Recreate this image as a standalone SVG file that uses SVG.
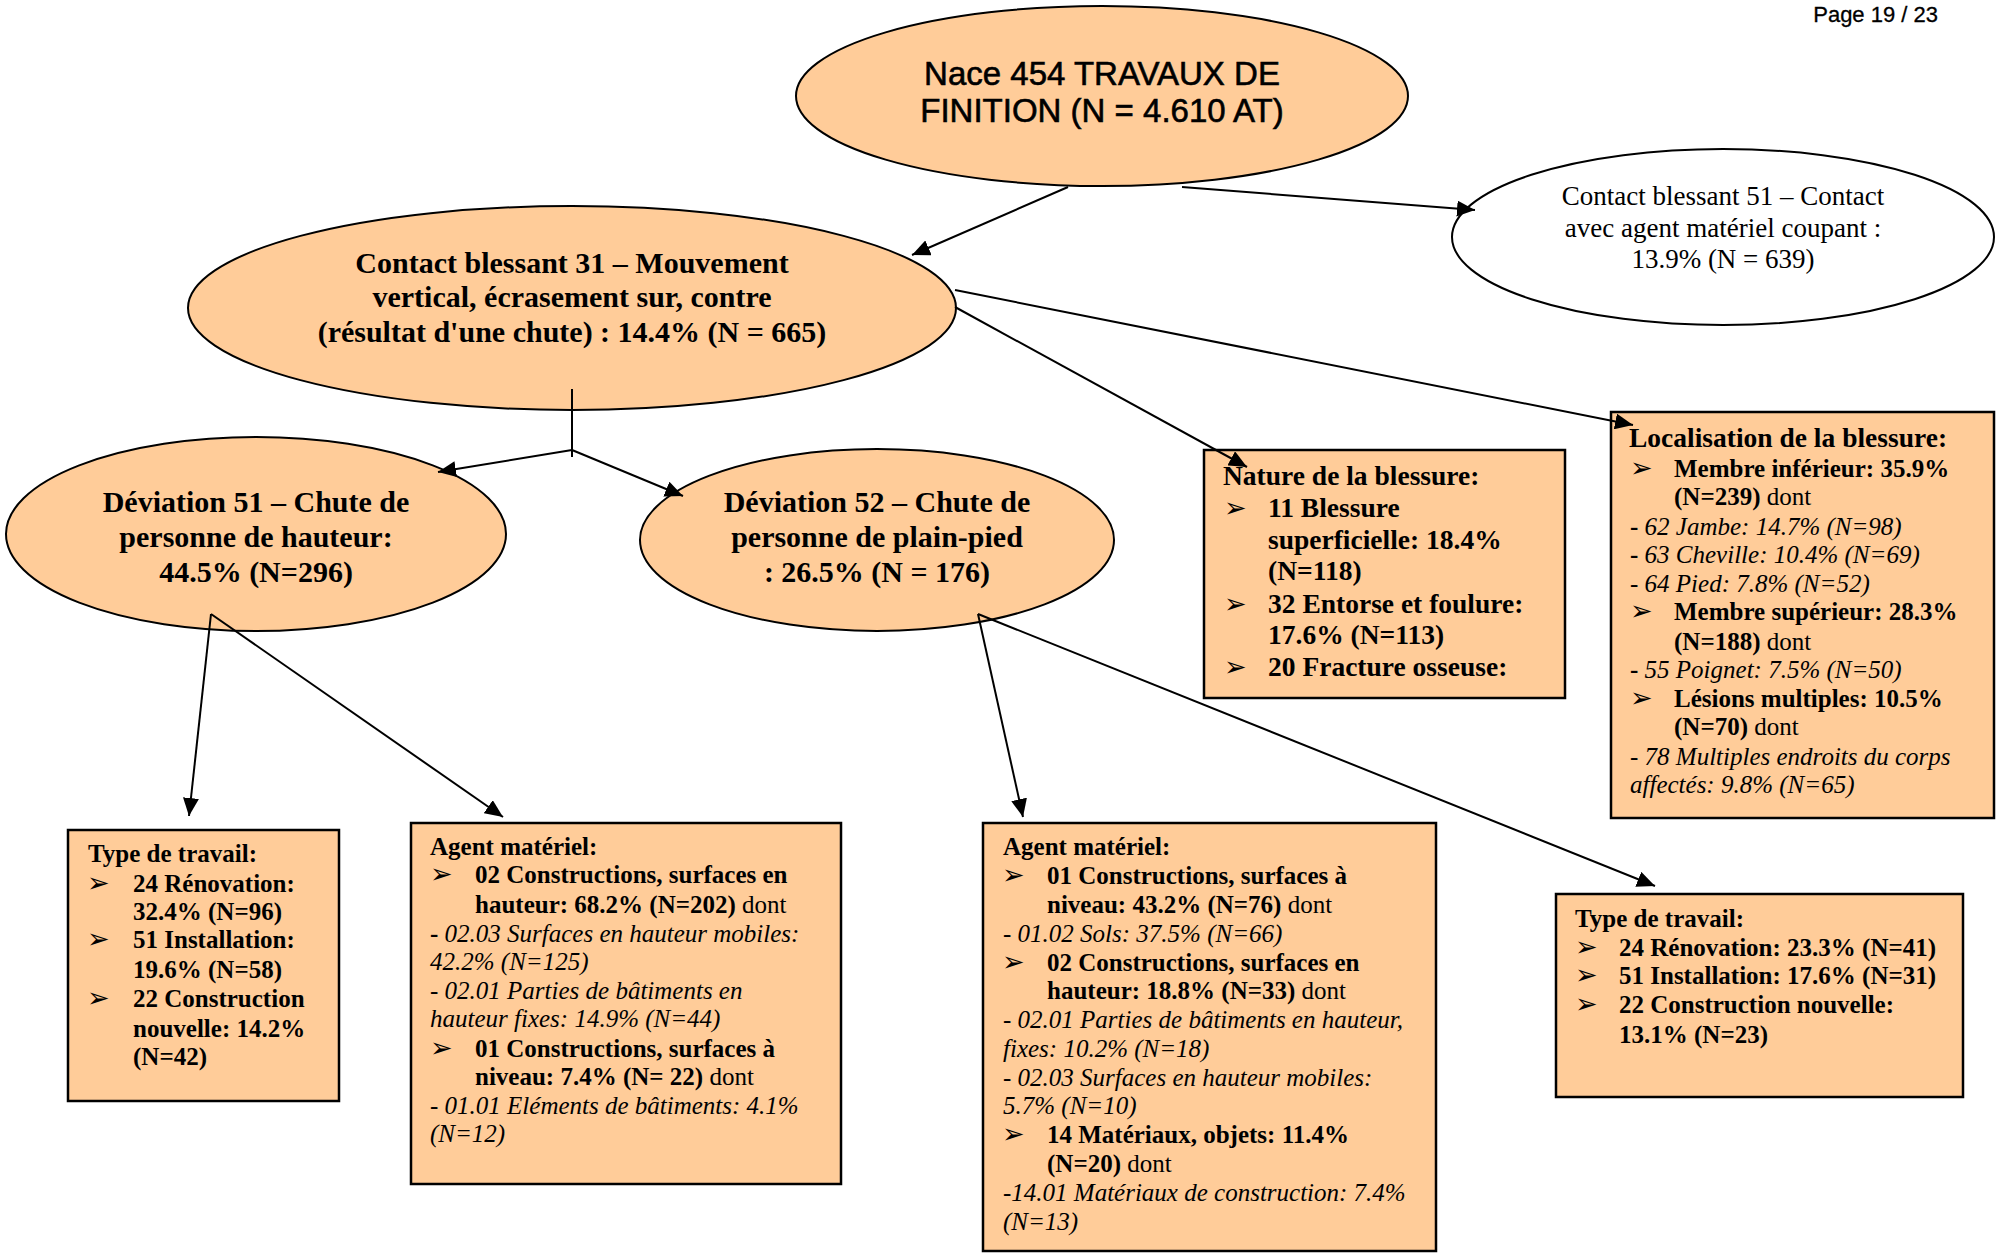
<svg xmlns="http://www.w3.org/2000/svg" width="1998" height="1254" viewBox="0 0 1998 1254">
<defs>
<style>
.el { fill:#FFCC99; stroke:#000; stroke-width:2; }
.elw { fill:#FFFFFF; stroke:#000; stroke-width:2; }
.bx { fill:#FFCC99; stroke:#000; stroke-width:2.5; }
.c { stroke:#000; stroke-width:2; fill:none; }
.sans { font-family:"Liberation Sans", Arial, sans-serif; fill:#000; }
.ser { font-family:"Liberation Serif", "Times New Roman", serif; fill:#000; }
.f25 { font-size:25px; }
.f27 { font-size:27.5px; }
.f30 { font-size:30px; font-weight:bold; }
.bd { font-weight:bold; }
.nb { font-weight:normal; }
.it { font-style:italic; }
.bul { font-family:"DejaVu Sans", sans-serif; font-size:27px; fill:#000; }
.mid { text-anchor:middle; }
</style>
<marker id="ah" markerWidth="18" markerHeight="16" refX="18" refY="8" orient="auto" markerUnits="userSpaceOnUse">
<path d="M0,0 L18,8 L0,16 z" fill="#000"/>
</marker>
</defs>
<rect x="0" y="0" width="1998" height="1254" fill="#FFFFFF"/>

<text class="sans" x="1938" y="22" font-size="22" text-anchor="end" stroke="#000" stroke-width="0.3">Page 19 / 23</text>

<g id="node-nace">
<ellipse class="el" cx="1102" cy="96" rx="306" ry="90"/>
<text class="sans mid" font-size="33" stroke="#000" stroke-width="0.6" x="1102" y="85">Nace 454 TRAVAUX DE</text>
<text class="sans mid" font-size="33" stroke="#000" stroke-width="0.6" x="1102" y="122">FINITION (N = 4.610 AT)</text>
</g>

<g id="node-contact51">
<ellipse class="elw" cx="1723" cy="237" rx="271" ry="88"/>
<text class="ser mid" font-size="27" x="1723" y="205">Contact blessant 51 – Contact</text>
<text class="ser mid" font-size="27" x="1723" y="237">avec agent matériel coupant :</text>
<text class="ser mid" font-size="27" x="1723" y="268">13.9% (N = 639)</text>
</g>

<g id="node-contact31">
<ellipse class="el" cx="572" cy="308" rx="384" ry="102"/>
<text class="ser f30 mid" x="572" y="273">Contact blessant 31 – Mouvement</text>
<text class="ser f30 mid" x="572" y="307">vertical, écrasement sur, contre</text>
<text class="ser f30 mid" x="572" y="342">(résultat d'une chute) : 14.4% (N = 665)</text>
</g>

<g id="node-dev51">
<ellipse class="el" cx="256" cy="534" rx="250" ry="97"/>
<text class="ser f30 mid" x="256" y="512">Déviation 51 – Chute de</text>
<text class="ser f30 mid" x="256" y="547">personne de hauteur:</text>
<text class="ser f30 mid" x="256" y="582">44.5% (N=296)</text>
</g>

<g id="node-dev52">
<ellipse class="el" cx="877" cy="540" rx="237" ry="91"/>
<text class="ser f30 mid" x="877" y="512">Déviation 52 – Chute de</text>
<text class="ser f30 mid" x="877" y="547">personne de plain-pied</text>
<text class="ser f30 mid" x="877" y="582">: 26.5% (N = 176)</text>
</g>

<g id="node-nature">
<rect class="bx" x="1204" y="450" width="361" height="248"/>
<text class="ser f27 bd" x="1223" y="485">Nature de la blessure:</text>
<text class="bul" x="1224" y="517">➢</text>
<text class="ser f27 bd" x="1268" y="517">11 Blessure</text>
<text class="ser f27 bd" x="1268" y="549">superficielle: 18.4%</text>
<text class="ser f27 bd" x="1268" y="580">(N=118)</text>
<text class="bul" x="1224" y="613">➢</text>
<text class="ser f27 bd" x="1268" y="613">32 Entorse et foulure:</text>
<text class="ser f27 bd" x="1268" y="644">17.6% (N=113)</text>
<text class="bul" x="1224" y="676">➢</text>
<text class="ser f27 bd" x="1268" y="676">20 Fracture osseuse:</text>
</g>

<g id="node-localisation">
<rect class="bx" x="1611" y="412" width="383" height="406"/>
<text class="ser f27 bd" x="1629" y="447">Localisation de la blessure:</text>
<text class="bul" x="1630" y="477">➢</text>
<text class="ser f25 bd" x="1674" y="477">Membre inférieur: 35.9%</text>
<text class="ser f25" x="1674" y="505"><tspan class="bd">(N=239)</tspan> dont</text>
<text class="ser f25" x="1630" y="535"><tspan class="bd">-</tspan><tspan class="it"> 62 Jambe: 14.7% (N=98)</tspan></text>
<text class="ser f25" x="1630" y="563"><tspan class="bd">-</tspan><tspan class="it"> 63 Cheville: 10.4% (N=69)</tspan></text>
<text class="ser f25 it" x="1630" y="592">- 64 Pied: 7.8% (N=52)</text>
<text class="bul" x="1630" y="620">➢</text>
<text class="ser f25 bd" x="1674" y="620">Membre supérieur: 28.3%</text>
<text class="ser f25" x="1674" y="650"><tspan class="bd">(N=188)</tspan> dont</text>
<text class="ser f25" x="1630" y="678"><tspan class="bd">-</tspan><tspan class="it"> 55 Poignet: 7.5% (N=50)</tspan></text>
<text class="bul" x="1630" y="707">➢</text>
<text class="ser f25 bd" x="1674" y="707">Lésions multiples: 10.5%</text>
<text class="ser f25" x="1674" y="735"><tspan class="bd">(N=70)</tspan> dont</text>
<text class="ser f25 it" x="1630" y="765">- 78 Multiples endroits du corps</text>
<text class="ser f25 it" x="1630" y="793">affectés: 9.8% (N=65)</text>
</g>

<g id="node-type1">
<rect class="bx" x="68" y="830" width="271" height="271"/>
<text class="ser f25 bd" x="88" y="862">Type de travail:</text>
<text class="bul" x="87" y="892">➢</text>
<text class="ser f25 bd" x="133" y="892">24 Rénovation:</text>
<text class="ser f25 bd" x="133" y="920">32.4% (N=96)</text>
<text class="bul" x="87" y="948">➢</text>
<text class="ser f25 bd" x="133" y="948">51 Installation:</text>
<text class="ser f25 bd" x="133" y="978">19.6% (N=58)</text>
<text class="bul" x="87" y="1007">➢</text>
<text class="ser f25 bd" x="133" y="1007">22 Construction</text>
<text class="ser f25 bd" x="133" y="1037">nouvelle: 14.2%</text>
<text class="ser f25 bd" x="133" y="1065">(N=42)</text>
</g>

<g id="node-agent1">
<rect class="bx" x="411" y="823" width="430" height="361"/>
<text class="ser f25 bd" x="430" y="855">Agent matériel:</text>
<text class="bul" x="430" y="883">➢</text>
<text class="ser f25 bd" x="475" y="883">02 Constructions, surfaces en</text>
<text class="ser f25" x="475" y="913"><tspan class="bd">hauteur: 68.2% (N=202)</tspan> dont</text>
<text class="ser f25" x="430" y="942"><tspan class="bd">-</tspan><tspan class="it"> 02.03 Surfaces en hauteur mobiles:</tspan></text>
<text class="ser f25 it" x="430" y="970">42.2% (N=125)</text>
<text class="ser f25 it" x="430" y="999">- 02.01 Parties de bâtiments en</text>
<text class="ser f25 it" x="430" y="1027">hauteur fixes: 14.9% (N=44)</text>
<text class="bul" x="430" y="1057">➢</text>
<text class="ser f25 bd" x="475" y="1057">01 Constructions, surfaces à</text>
<text class="ser f25" x="475" y="1085"><tspan class="bd">niveau: 7.4% (N= 22)</tspan> dont</text>
<text class="ser f25 it" x="430" y="1114">- 01.01 Eléments de bâtiments: 4.1%</text>
<text class="ser f25 it" x="430" y="1142">(N=12)</text>
</g>

<g id="node-agent2">
<rect class="bx" x="983" y="823" width="453" height="428"/>
<text class="ser f25 bd" x="1003" y="855">Agent matériel:</text>
<text class="bul" x="1002" y="884">➢</text>
<text class="ser f25 bd" x="1047" y="884">01 Constructions, surfaces à</text>
<text class="ser f25" x="1047" y="913"><tspan class="bd">niveau: 43.2% (N=76)</tspan> dont</text>
<text class="ser f25 it" x="1003" y="942">- 01.02 Sols: 37.5% (N=66)</text>
<text class="bul" x="1002" y="971">➢</text>
<text class="ser f25 bd" x="1047" y="971">02 Constructions, surfaces en</text>
<text class="ser f25" x="1047" y="999"><tspan class="bd">hauteur: 18.8% (N=33)</tspan> dont</text>
<text class="ser f25 it" x="1003" y="1028">- 02.01 Parties de bâtiments en hauteur,</text>
<text class="ser f25 it" x="1003" y="1057">fixes: 10.2% (N=18)</text>
<text class="ser f25 it" x="1003" y="1086">- 02.03 Surfaces en hauteur mobiles:</text>
<text class="ser f25 it" x="1003" y="1114">5.7% (N=10)</text>
<text class="bul" x="1002" y="1143">➢</text>
<text class="ser f25 bd" x="1047" y="1143">14 Matériaux, objets: 11.4%</text>
<text class="ser f25" x="1047" y="1172"><tspan class="bd">(N=20)</tspan> dont</text>
<text class="ser f25 it" x="1003" y="1201">-14.01 Matériaux de construction: 7.4%</text>
<text class="ser f25 it" x="1003" y="1230">(N=13)</text>
</g>

<g id="node-type2">
<rect class="bx" x="1556" y="894" width="407" height="203"/>
<text class="ser f25 bd" x="1575" y="927">Type de travail:</text>
<text class="bul" x="1575" y="956">➢</text>
<text class="ser f25 bd" x="1619" y="956">24 Rénovation: 23.3% (N=41)</text>
<text class="bul" x="1575" y="984">➢</text>
<text class="ser f25 bd" x="1619" y="984">51 Installation: 17.6% (N=31)</text>
<text class="bul" x="1575" y="1013">➢</text>
<text class="ser f25 bd" x="1619" y="1013">22 Construction nouvelle:</text>
<text class="ser f25 bd" x="1619" y="1043">13.1% (N=23)</text>
</g>

<g id="connectors">
<path class="c" d="M1068,187 L912,255" marker-end="url(#ah)"/>
<path class="c" d="M1182,187 L1475,210" marker-end="url(#ah)"/>
<path class="c" d="M955,290 L1633,425" marker-end="url(#ah)"/>
<path class="c" d="M955,307 L1247,467" marker-end="url(#ah)"/>
<path class="c" d="M572,389 L572,457"/>
<path class="c" d="M572,450 L438,472" marker-end="url(#ah)"/>
<path class="c" d="M572,450 L683,496" marker-end="url(#ah)"/>
<path class="c" d="M211,614 L189,816" marker-end="url(#ah)"/>
<path class="c" d="M211,614 L503,817" marker-end="url(#ah)"/>
<path class="c" d="M978,614 L1023,817" marker-end="url(#ah)"/>
<path class="c" d="M978,614 L1655,886" marker-end="url(#ah)"/>
</g>
</svg>
